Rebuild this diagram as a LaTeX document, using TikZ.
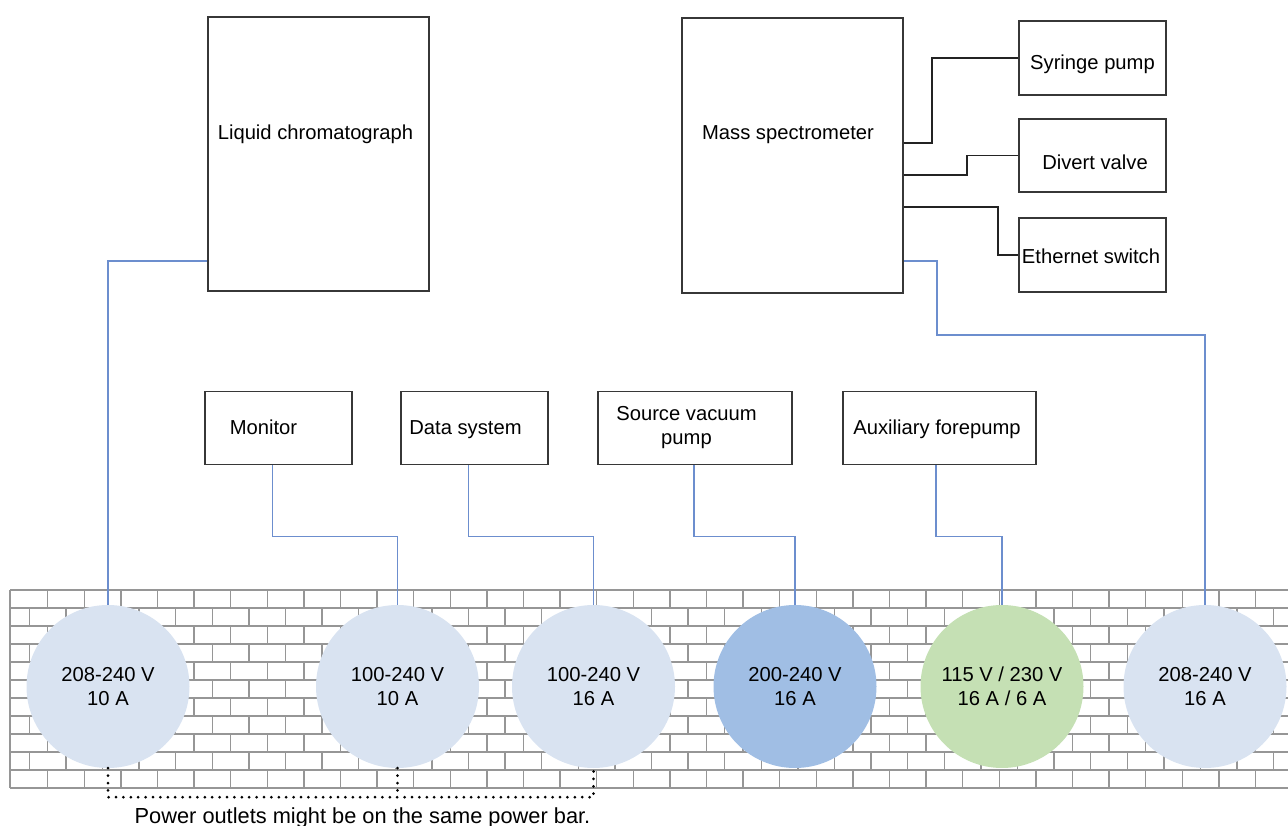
\documentclass[tikz,border=0pt]{standalone}
\usepackage{fontspec}
\setmainfont{Liberation Sans}
\usetikzlibrary{calc}
\definecolor{pwr}{RGB}{108,142,206}
\definecolor{boxc}{RGB}{55,55,55}
\definecolor{sigc}{RGB}{35,35,35}
\definecolor{brickc}{RGB}{150,150,150}
\definecolor{outl}{RGB}{217,227,241}
\definecolor{outm}{RGB}{160,190,228}
\definecolor{outg}{RGB}{197,224,180}
\begin{document}
\begin{tikzpicture}[x=1pt,y=-1pt,
  every node/.style={font=\fontsize{20.2}{24}\selectfont},
  box/.style={draw=boxc, line width=1.8, rectangle, inner sep=0, fill=white},
  txt/.style={inner sep=0, align=center, anchor=base},
  ctxt/.style={inner sep=0, align=center, anchor=center},
  outlet/.style={circle, inner sep=0, minimum size=163, align=center},
  pw/.style={draw=pwr, line width=1.8},
  sig/.style={draw=sigc, line width=1.8},
  brick/.style={draw=brickc, line width=1.3},
  dots/.style={draw=black, line width=3, line cap=round, dash pattern=on 0pt off 7.4pt}]
\useasboundingbox (0,0) rectangle (1288,826);

% brick wall
\begin{scope}
\clip (0,0) rectangle (1288,826);
\foreach \r in {0,...,11} \draw[brick] (10,{590+18*\r}) -- (1288,{590+18*\r});
\draw[brick] (10,590) -- (10,788);
\foreach \r in {0,...,10} {
  \pgfmathsetmacro{\off}{ifthenelse(mod(\r,2)==0,47.7,29.3)}
  \foreach \j in {0,...,34} \draw[brick] ({\off+36.6*\j},{590+18*\r}) -- ++(0,18);
}
\end{scope}

% boxes
\node[box, minimum width=221, minimum height=274] (lc) at (318.5,154) {};
\node[box, minimum width=221, minimum height=275] (ms) at (792.5,155.5) {};
\node[box, minimum width=147, minimum height=74] (sp) at (1092.5,58) {};
\node[box, minimum width=147, minimum height=73] (dv) at (1092.5,155.5) {};
\node[box, minimum width=147, minimum height=74] (es) at (1092.5,255) {};
\node[box, minimum width=147, minimum height=73] (mon) at (278.5,428) {};
\node[box, minimum width=147, minimum height=73] (ds) at (474.5,428) {};
\node[box, minimum width=194, minimum height=73] (svp) at (695,428) {};
\node[box, minimum width=193, minimum height=73] (afp) at (939.5,428) {};

% box texts
\node[txt] (lct) at (315.5,140) {Liquid chromatograph};
\node[txt] (mst) at (788,140) {Mass spectrometer};
\node[txt] (spt) at (1092.5,70) {Syringe pump};
\node[txt] (dvt) at (1095,170) {Divert valve};
\node[txt] (est) at (1091,264) {Ethernet switch};
\node[txt] (mont) at (263.5,434) {Monitor};
\node[txt] (dst) at (465.5,434) {Data system};
\node[ctxt] (svpt) at (686.5,428) {Source vacuum\\pump};
\node[txt] (afpt) at (937,434) {Auxiliary forepump};

% outlets
\node[outlet, fill=outl] (o1) at (108,686.5) {208-240 V\\10 A};
\node[outlet, fill=outl] (o2) at (397.5,686.5) {100-240 V\\10 A};
\node[outlet, fill=outl] (o3) at (593.5,686.5) {100-240 V\\16 A};
\node[outlet, fill=outm] (o4) at (795,686.5) {200-240 V\\16 A};
\node[outlet, fill=outg] (o5) at (1002,686.5) {115 V / 230 V\\16 A / 6 A};
\node[outlet, fill=outl] (o6) at (1205,686.5) {208-240 V\\16 A};

% power connectors
\draw[pw] ($(lc.south west)+(0,-31)$) -| (o1.north);
\draw[pw] ($(mon.south)+(-6,0)$) -- ++(0,71) -| (o2.north);
\draw[pw] ($(ds.south)+(-6,0)$) -- ++(0,71) -| (o3.north);
\draw[pw] ($(svp.south)+(-1,0)$) -- ++(0,71) -| (o4.north);
\draw[pw] ($(afp.south)+(-3.5,0)$) -- ++(0,71) -| (o5.north);
\draw[pw] ($(ms.south east)+(0,-33)$) -- ++(33,0) |- ($(o6.north)+(0,-270)$) -- (o6.north);

% signal connectors
\draw[sig] ($(ms.north east)+(0,126)$) -- ++(28,0) |- (sp.west);
\draw[sig] ($(ms.north east)+(0,158)$) -- ++(63,0) |- (dv.west);
\draw[sig] ($(ms.north east)+(0,190)$) -- ++(94,0) |- (es.west);

% power bar
\draw[dots] (o1.south) -- ++(0,29) -| (o3.south);
\draw[dots] (o2.south) -- ++(0,29);
\node[txt, font=\fontsize{21.8}{26}\selectfont] (cap) at (362.5,823) {Power outlets might be on the same power bar.};
\end{tikzpicture}
\end{document}
